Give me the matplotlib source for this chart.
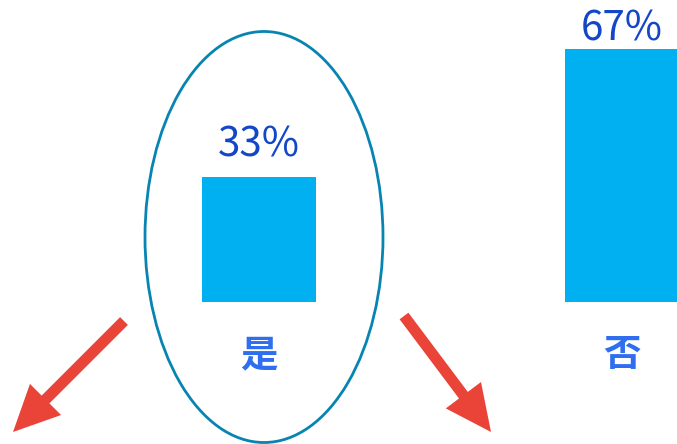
import matplotlib
matplotlib.use('Agg')
import matplotlib.pyplot as plt
import matplotlib.patches as mpatches

plt.rcParams['font.family'] = ['Noto Sans CJK SC', 'DejaVu Sans']

# data
categories = ['是', '否']
shares = [33, 67]
label_gap = [5.4, 2.3]   # space between bar top and its percent label

bar_color = '#00B0F0'
pct_color = '#1447C8'
cat_color = '#2F6FEF'

fig = plt.figure(figsize=(6.77, 4.44), dpi=100)
ax = fig.add_axes([0, 0, 1, 1])
ax.set_xlim(-0.7135, 1.1515)
ax.set_ylim(-37.6, 79.9)
ax.axis('off')

x = list(range(len(categories)))
ax.bar(x, shares, width=0.314, color=bar_color, zorder=2)

for xi, v, g in zip(x, shares, label_gap):
    ax.text(xi, v + g, f'{v}%', ha='center', va='baseline',
            fontsize=29, color=pct_color)
for xi, c in zip(x, categories):
    ax.text(xi, -14, c, ha='center', va='center', fontsize=27,
            fontweight='bold', color=cat_color)

# overlay in pixel units for the highlight ring and arrows
ov = fig.add_axes([0, 0, 1, 1], facecolor='none')
ov.set_xlim(0, 677)
ov.set_ylim(444, 0)
ov.axis('off')

ov.add_patch(mpatches.Ellipse((264, 237), 238, 411, fill=False,
                              edgecolor='#0784B2', linewidth=2.0))

arrow_red = '#EA4338'
for (x0, y0), (x1, y1) in [((124, 321), (13, 432)), ((404, 316), (491, 432))]:
    ov.add_patch(mpatches.FancyArrow(x0, y0, x1 - x0, y1 - y0, width=11,
                                     head_width=44, head_length=46,
                                     length_includes_head=True,
                                     color=arrow_red, linewidth=0))

fig.savefig('out.png', dpi=100)
